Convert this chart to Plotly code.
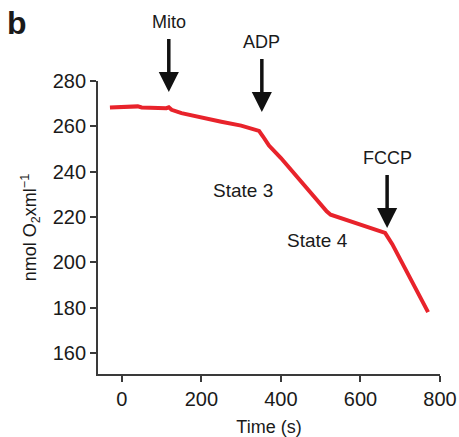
import plotly.graph_objects as go

# Data
time_s = [-30, -10, 10, 30, 40, 50, 80, 100, 112, 118, 125, 150, 200, 250, 300, 330, 345,
          355, 370, 400, 450, 500, 515, 525, 560, 600, 640, 662, 680, 720, 770]
o2_nmol = [268.3, 268.4, 268.3, 268.5, 268.8, 268.3, 268.1, 267.8, 268.0, 268.4, 267.3, 265.8,
           263.8, 262.0, 260.3, 259.0, 258.0, 255.5, 251.5, 246.0, 235.5, 225.5, 222.5,
           221.0, 219.0, 217.0, 214.5, 213.0, 208.0, 195.0, 178.0]

events = ["Mito", "ADP", "FCCP"]
event_time = [118, 352, 667]
event_tip_y = [275.1, 266.3, 215.1]

state_labels = ["State 3", "State 4"]
state_x = [304, 493]
state_y = [231.9, 209.8]

x_ticks = [0, 200, 400, 600, 800]
y_ticks = [160, 180, 200, 220, 240, 260, 280]

font_family = "Liberation Sans, Arial, sans-serif"
text_color = "#1a1a1a"
axis_color = "#3a3a3a"

fig = go.Figure()
fig.add_trace(go.Scatter(
    x=time_s, y=o2_nmol, mode="lines",
    line=dict(color="#e8232b", width=4),
    showlegend=False, hoverinfo="skip",
))

annotations = []
for name, tx, ty in zip(events, event_time, event_tip_y):
    annotations.append(dict(
        x=tx, y=ty, xref="x", yref="y", text=name, showarrow=True,
        ax=0, ay=-58, axref="pixel", ayref="pixel",
        xanchor="center", yanchor="bottom", startstandoff=5,
        arrowhead=2, arrowsize=1.15, arrowwidth=3.5, arrowcolor="#111111",
        font=dict(size=18, color=text_color, family=font_family),
    ))
for name, sx, sy in zip(state_labels, state_x, state_y):
    annotations.append(dict(
        x=sx, y=sy, xref="x", yref="y", text=name, showarrow=False,
        font=dict(size=19, color=text_color, family=font_family),
    ))
annotations.append(dict(
    x=-0.238, y=1.198, xref="paper", yref="paper", text="<b>b</b>", showarrow=False,
    font=dict(size=32, color=text_color, family=font_family),
    xanchor="center", yanchor="middle",
))

fig.update_layout(
    width=459, height=437,
    margin=dict(l=98, r=19, t=81, b=63, autoexpand=False),
    paper_bgcolor="white", plot_bgcolor="white",
    font=dict(family=font_family, size=20, color=text_color),
    annotations=annotations,
    xaxis=dict(
        range=[-60, 800], tickvals=x_ticks, ticks="outside", ticklen=6, tickwidth=1.5,
        tickcolor=axis_color, showline=True, linecolor=axis_color, linewidth=1.8,
        showgrid=False, zeroline=False, tickfont=dict(size=20), automargin=False,
        title=dict(text="Time (s)", font=dict(size=18), standoff=14),
    ),
    yaxis=dict(
        range=[150.7, 280], tickvals=y_ticks, ticks="outside", ticklen=6, tickwidth=1.5,
        tickcolor=axis_color, showline=True, linecolor=axis_color, linewidth=1.8,
        showgrid=False, zeroline=False, tickfont=dict(size=20), automargin=False,
        title=dict(text="nmol O<sub>2</sub>xml<sup>−1</sup>", font=dict(size=18), standoff=11),
    ),
)

fig.write_html("out.html")
